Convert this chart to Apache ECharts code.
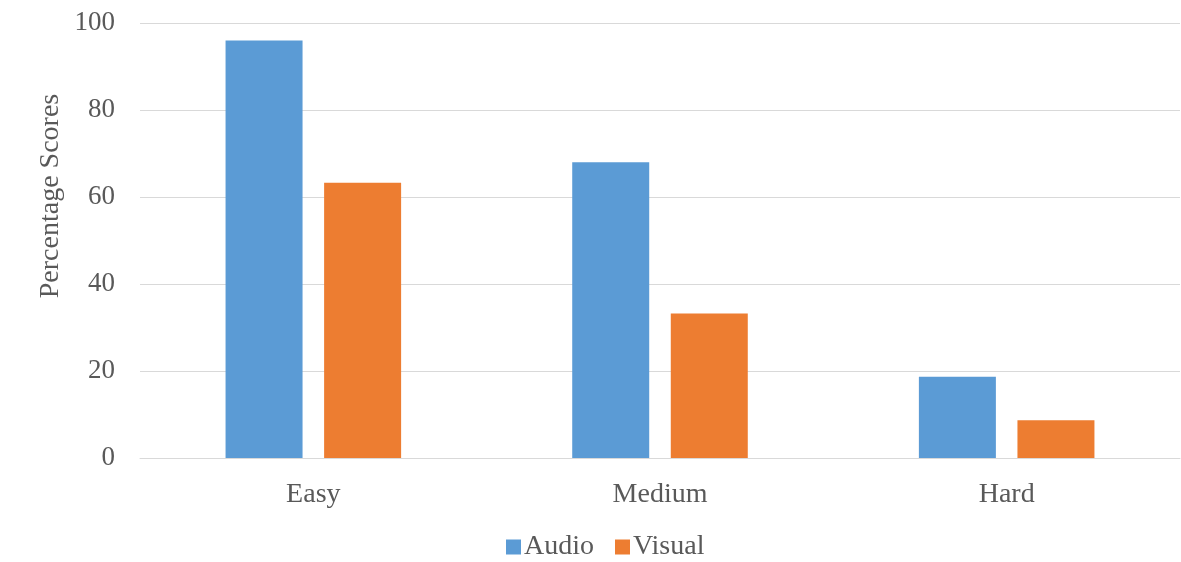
<!DOCTYPE html>
<html>
<head>
<meta charset="utf-8">
<script src="https://cdn.jsdelivr.net/npm/echarts@6/dist/echarts.min.js"></script>
<style>
  html, body { margin: 0; padding: 0; background: #fff; }
  #chart { width: 1181px; height: 562px; }
</style>
</head>
<body>
<div id="chart"></div>
<script>
// Scores by difficulty level
const categories = ['Easy', 'Medium', 'Hard'];
const audioScores = [96, 68, 18.7];
const visualScores = [63.3, 33.2, 8.7];
const yTicks = { min: 0, max: 100, interval: 20 };

const textColor = '#595959';
const fontFamily = '"Liberation Serif", "DejaVu Serif", serif';

const chart = echarts.init(document.getElementById('chart'), null, { renderer: 'canvas' });

chart.setOption({
  animation: false,
  backgroundColor: '#fff',
  textStyle: { fontFamily: fontFamily, color: textColor },
  grid: { left: 140, right: 1, top: 23, bottom: 104, containLabel: false },
  legend: {
    data: ['Audio', 'Visual'],
    top: 533,
    left: 506,
    padding: 0,
    icon: 'rect',
    itemWidth: 15,
    itemHeight: 15,
    itemGap: 21,
    textStyle: { fontFamily: fontFamily, fontSize: 28, color: textColor, padding: [0, 0, 0, -2] }
  },
  xAxis: {
    type: 'category',
    data: categories,
    axisLine: { show: true, lineStyle: { color: '#D9D9D9', width: 1 } },
    axisTick: { show: false },
    axisLabel: { fontFamily: fontFamily, fontSize: 28, color: textColor, margin: 23 }
  },
  yAxis: {
    type: 'value',
    min: yTicks.min,
    max: yTicks.max,
    interval: yTicks.interval,
    axisLine: { show: false },
    axisTick: { show: false },
    axisLabel: { fontFamily: fontFamily, fontSize: 27, color: textColor, margin: 25 },
    splitLine: { show: true, lineStyle: { color: '#D9D9D9', width: 1 } }
  },
  graphic: [{
    type: 'text',
    x: 51,
    y: 196,
    rotation: Math.PI / 2,
    style: {
      text: 'Percentage Scores',
      fontFamily: fontFamily,
      fontSize: 28,
      fill: textColor,
      align: 'center',
      verticalAlign: 'middle'
    }
  }],
  series: [
    {
      name: 'Audio',
      type: 'bar',
      data: audioScores,
      barWidth: 77,
      barGap: '28%',
      itemStyle: { color: '#5B9BD5' }
    },
    {
      name: 'Visual',
      type: 'bar',
      data: visualScores,
      barWidth: 77,
      barGap: '28%',
      itemStyle: { color: '#ED7D31' }
    }
  ]
});
</script>
</body>
</html>
